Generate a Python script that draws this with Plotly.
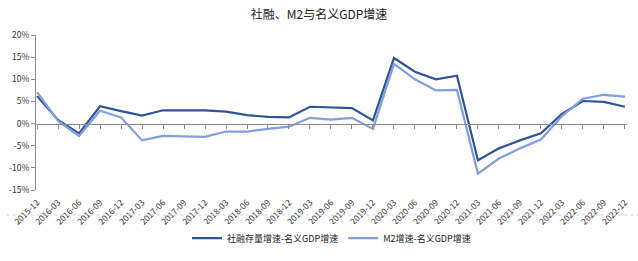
import plotly.graph_objects as go

categories = ["2015-12","2016-03","2016-06","2016-09","2016-12","2017-03","2017-06","2017-09","2017-12",
              "2018-03","2018-06","2018-09","2018-12","2019-03","2019-06","2019-09","2019-12",
              "2020-03","2020-06","2020-09","2020-12","2021-03","2021-06","2021-09","2021-12",
              "2022-03","2022-06","2022-09","2022-12"]
tsf_gap = [6.2, 0.8, -2.2, 3.9, 2.8, 1.8, 3.0, 3.0, 3.0,
           2.7, 1.9, 1.5, 1.4, 3.8, 3.6, 3.5, 0.7,
           14.8, 11.7, 10.0, 10.8, -8.3, -5.6, -3.8, -2.2,
           2.2, 5.1, 4.9, 3.8]
m2_gap = [7.1, 0.6, -2.8, 2.9, 1.4, -3.8, -2.8, -2.9, -3.0,
          -1.8, -1.8, -1.2, -0.7, 1.3, 0.9, 1.3, -1.2,
          13.5, 10.0, 7.5, 7.6, -11.3, -7.9, -5.6, -3.6,
          1.7, 5.6, 6.5, 6.1]
y_ticks = [-15, -10, -5, 0, 5, 10, 15, 20]
y_labels = [f"{v}%" for v in y_ticks]

name1 = "社融存量增速-名义GDP增速"
name2 = "M2增速-名义GDP增速"
title = "社融、M2与名义GDP增速"

font_cjk = "Noto Sans CJK SC, sans-serif"
dark = "#2F5597"
light = "#819FDB"

fig = go.Figure()
fig.add_trace(go.Scatter(x=categories, y=tsf_gap, mode="lines", name=name1,
                         line=dict(color=dark, width=2.2)))
fig.add_trace(go.Scatter(x=categories, y=m2_gap, mode="lines", name=name2,
                         line=dict(color=light, width=2.2)))
# invisible trace to carry the zero-line axis with ticks
fig.add_trace(go.Scatter(x=categories, y=[0]*len(categories), xaxis="x2", mode="lines",
                         line=dict(width=0), showlegend=False, hoverinfo="skip", opacity=0))

yr = [-15, 20]
zero_pos = (0 - yr[0]) / (yr[1] - yr[0])

fig.update_layout(
    width=638, height=261,
    margin=dict(l=29, r=9, t=35, b=65),
    paper_bgcolor="white", plot_bgcolor="white",
    title=dict(text=title, x=0.5, xanchor="center", y=1 - 15/261, yanchor="middle",
               font=dict(family=font_cjk, size=12, color="#222222")),
    font=dict(family=font_cjk, size=9, color="#333333"),
    xaxis=dict(type="category", range=[-0.05, 28.1], showline=False, showgrid=False,
               ticks="", tickangle=-45, tickfont=dict(size=8.5, color="#333333"),
               ticklabelstandoff=5, zeroline=False),
    xaxis2=dict(type="category", range=[-0.05, 28.1], overlaying="x", anchor="free",
                position=zero_pos, side="bottom", showline=True, linecolor="#8c8c8c",
                linewidth=1, ticks="outside", ticklen=4, tickcolor="#8c8c8c",
                showticklabels=False, showgrid=False, zeroline=False),
    yaxis=dict(range=yr, tickvals=y_ticks, ticktext=y_labels, showgrid=False,
               zeroline=False, showline=True, linecolor="#8c8c8c", linewidth=1,
               ticks="outside", ticklen=4, tickcolor="#8c8c8c",
               tickfont=dict(size=8.5, color="#333333")),
    legend=dict(orientation="h", x=0.5, xanchor="center", y=-0.31, yanchor="middle",
                font=dict(family=font_cjk, size=9, color="#222222"),
                itemwidth=30, tracegroupgap=0),
    shapes=[dict(type="line", xref="paper", yref="paper", x0=-0.05, x1=1.02,
                 y0=(196-222)/161, y1=(196-222)/161,
                 line=dict(color="#d0d0d0", width=1, dash="dot"))],
)

fig.write_html("out.html")
